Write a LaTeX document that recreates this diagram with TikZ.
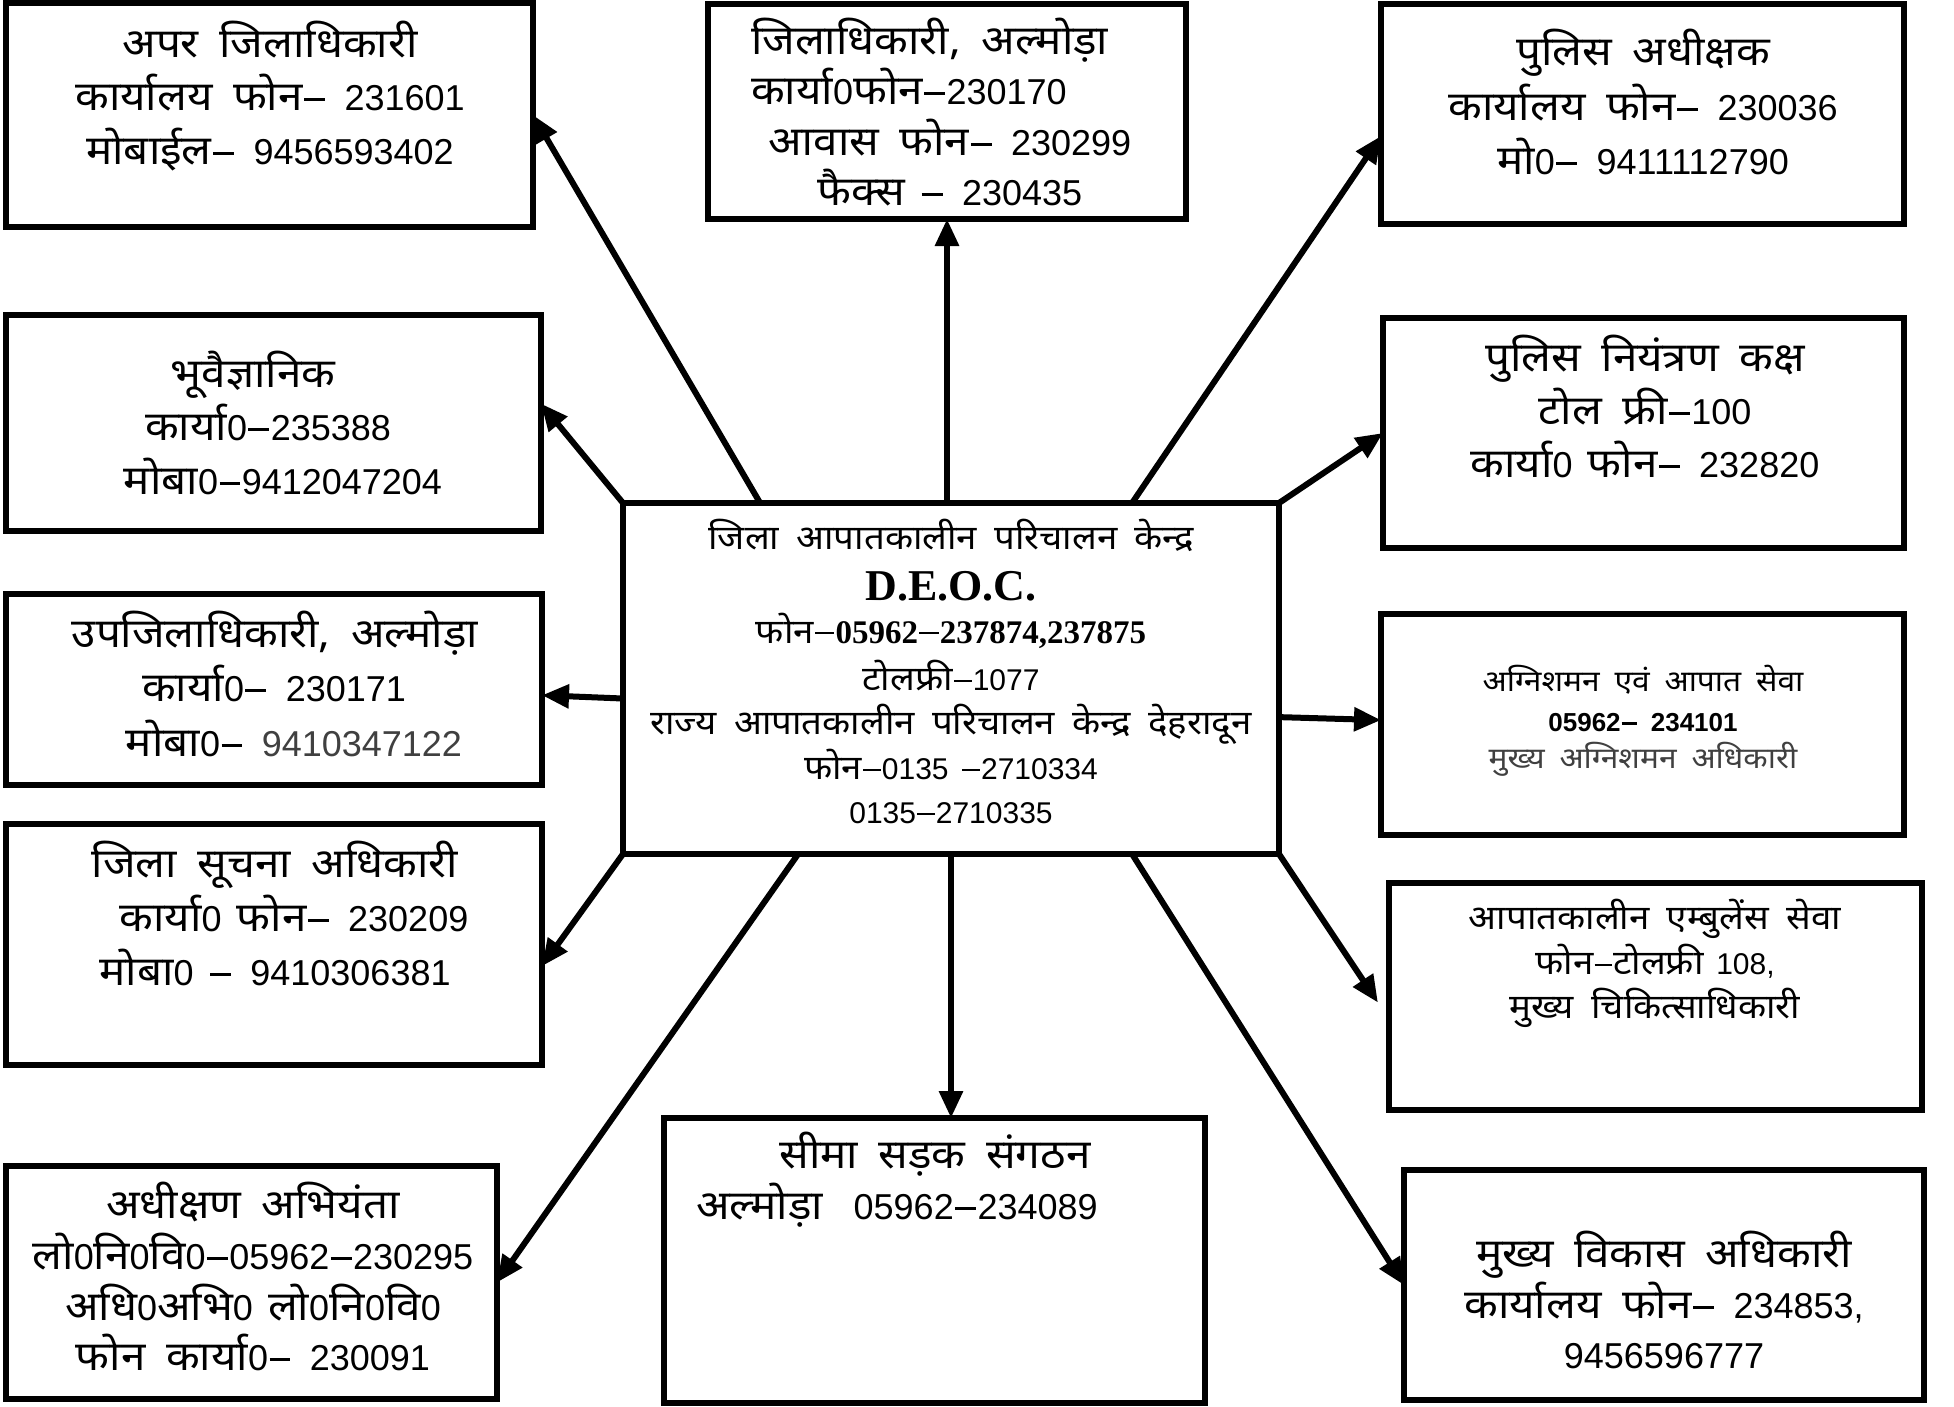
\documentclass[tikz,border=0pt]{standalone}
\usepackage{fontspec}
\setmainfont{Liberation Sans}
\newfontfamily\dev[Script=Devanagari,Scale=1.13,FakeStretch=1.08,WordSpace=1.8]{Noto Sans}
\newfontfamily\tnr{Liberation Serif}
\usetikzlibrary{arrows.meta,calc}
\newcommand\fs[1]{\fontsize{#1}{#1}\selectfont}
\newcommand\dsh{\hspace{0.04em}\rule[0.26em]{0.58em}{0.085em}\hspace{0.04em}}
\newcommand\dg{\dsh\hspace{0.5em}}
\newcommand\ws{\hspace{0.42em}}
\newcounter{tlc}
\newcommand\tline[4][]{\stepcounter{tlc}\node[tl,#1] (t\thetlc) at (#2,#3) {#4};}
\newcommand\bx[5]{\node[bx, minimum width={(#4-#2)*1pt}, minimum height={(#5-#3)*1pt}] (#1) at ({(#2+#4)/2},{(#3+#5)/2}) {};}
\begin{document}
\begin{tikzpicture}[x=1pt,y=-1pt,
  bx/.style={draw, line width=6pt, inner sep=0pt, outer sep=0pt},
  tl/.style={inner sep=0pt, anchor=base, yshift=-13pt, font=\fs{36}},
  sm/.style={font=\fs{30}, yshift=2pt},
  xs/.style={font=\fs{26}, yshift=3.6pt},
  ar/.style={line width=6pt, -{Triangle[length=27pt,width=23pt]}}]
\fill[white] (0,0) rectangle (1954,1406);
\useasboundingbox (0,0) rectangle (1954,1406);
% boxes
\bx{B1}{6}{3}{533}{227}
\bx{B2}{708}{4}{1186}{219}
\bx{B3}{1381}{4}{1904}{224}
\bx{B4}{6}{315}{541}{531}
\bx{PNK}{1383}{318}{1904}{548}
\bx{B5}{6}{594}{542}{785}
\bx{Fire}{1381}{614}{1904}{835}
\bx{DIO}{6}{824}{542}{1065}
\bx{Amb}{1389}{883}{1922}{1110}
\bx{C}{623}{503}{1279}{854}
\bx{SE}{6}{1166}{497}{1399}
\bx{BRO}{664}{1118}{1205}{1403}
\bx{CDO}{1404}{1170}{1924}{1400}
% texts
\tline{270}{44}{{\dev अपर जिलाधिकारी}}
\tline{270}{97}{{\dev कार्यालय फोन}\dg 231601}
\tline{270}{151}{{\dev मोबाईल}\dg 9456593402}
\tline[anchor=base west]{751}{41}{{\dev जिलाधिकारी, अल्मोड़ा}}
\tline[anchor=base west]{751}{91}{{\dev कार्या}0{\dev फोन}\dsh 230170}
\tline{950}{142}{{\dev आवास फोन}\dg 230299}
\tline{950}{192}{{\dev फैक्स}\ws\dg 230435}
\tline{1643}{52}{{\dev पुलिस अधीक्षक}}
\tline{1643}{107}{{\dev कार्यालय फोन}\dg 230036}
\tline{1643}{161}{{\dev मो}0\dg 9411112790}
\tline{253}{374}{{\dev भूवैज्ञानिक}}
\tline{268}{427}{{\dev कार्या}0\dsh 235388}
\tline{283}{481}{{\dev मोबा}0\dsh 9412047204}
\tline{1645}{358}{{\dev पुलिस नियंत्रण कक्ष}}
\tline{1645}{411}{{\dev टोल फ्री}\dsh 100}
\tline{1645}{464}{{\dev कार्या}0\ws{\dev फोन}\dg 232820}
\tline{275}{634}{{\dev उपजिलाधिकारी, अल्मोड़ा}}
\tline{274}{688}{{\dev कार्या}0\dg 230171}
\tline{294}{743}{{\dev मोबा}0\dg \textcolor[HTML]{404040}{9410347122}}
\tline[xs]{1643}{682}{{\dev अग्निशमन एवं आपात सेवा}}
\tline[xs]{1643}{722}{\bfseries 05962\dg 234101}
\tline[xs,text={rgb,255:red,64;green,64;blue,64}]{1643}{759}{{\dev मुख्य अग्निशमन अधिकारी}}
\tline{275}{864}{{\dev जिला सूचना अधिकारी}}
\tline{294}{918}{{\dev कार्या}0\ws{\dev फोन}\dg 230209}
\tline{275}{972}{{\dev मोबा}0\ws\dg 9410306381}
\tline[sm]{951}{538}{{\dev जिला आपातकालीन परिचालन केन्द्र}}
\tline[font=\fs{44}\tnr\bfseries, yshift=-1.5pt]{951}{586}{D.E.O.C.}
\tline[sm]{951}{632}{{\dev फोन}{\fs{33}\tnr\bfseries \dsh 05962\dsh 237874,237875}}
\tline[sm]{951}{679}{{\dev टोलफ्री}\dsh 1077}
\tline[sm]{951}{723}{{\dev राज्य आपातकालीन परिचालन केन्द्र देहरादून}}
\tline[sm]{951}{768}{{\dev फोन}\dsh 0135\ws\dsh 2710334}
\tline[sm]{951}{812}{0135\dsh 2710335}
\tline[sm]{1655}{918}{{\dev आपातकालीन एम्बुलेंस सेवा}}
\tline[sm]{1655}{963}{{\dev फोन}\dsh{\dev टोलफ्री}\ws 108,}
\tline[sm]{1655}{1007}{{\dev मुख्य चिकित्साधिकारी}}
\tline{253}{1205}{{\dev अधीक्षण अभियंता}}
\tline{253}{1256}{{\dev लो}0{\dev नि}0{\dev वि}0\dsh 05962\dsh 230295}
\tline{253}{1307}{{\dev अधि}0{\dev अभि}0\ws{\dev लो}0{\dev नि}0{\dev वि}0}
\tline{253}{1357}{{\dev फोन कार्या}0\dg 230091}
\tline{935}{1155}{{\dev सीमा सड़क संगठन}}
\tline{897}{1206}{{\dev अल्मोड़ा}\hspace{0.85em}05962\dsh 234089}
\tline{1664}{1254}{{\dev मुख्य विकास अधिकारी}}
\tline{1664}{1305}{{\dev कार्यालय फोन}\dg 234853,}
\tline{1664}{1355}{9456596777}
% arrows
\draw[ar] ($(C.north west)!0.209!(C.north east)$) -- (B1.east);
\draw[ar] (C.north -| B2.south) -- (B2.south);
\draw[ar] ($(C.north west)!0.776!(C.north east)$) -- ($(B3.north west)!0.6!(B3.south west)$);
\draw[ar] (C.north west) -- ($(B4.north east)!0.41!(B4.south east)$);
\draw[ar] ($(C.north west)!0.557!(C.south west)$) -- ($(B5.north east)!0.53!(B5.south east)$);
\draw[ar] (C.south west) -- ($(DIO.north east)!0.59!(DIO.south east)$);
\draw[ar] ($(C.south west)!0.267!(C.south east)$) -- (SE.east);
\draw[ar] (C.south) -- (C.south |- BRO.north);
\draw[ar] ($(C.south west)!0.776!(C.south east)$) -- (CDO.west);
\draw[ar, shorten >=20pt] (C.south east) -- ($(Amb.north west)!0.6!(Amb.south west)$);
\draw[ar] ($(C.north east)!0.61!(C.south east)$) -- ($(Fire.north west)!0.48!(Fire.south west)$);
\draw[ar] (C.north east) -- (PNK.west);
\end{tikzpicture}
\end{document}
